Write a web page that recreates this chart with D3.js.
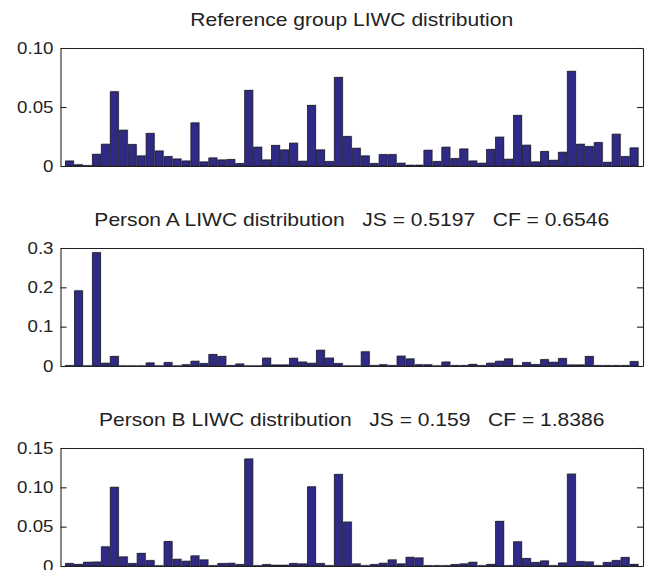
<!DOCTYPE html>
<html>
<head>
<meta charset="utf-8">
<script src="https://cdn.jsdelivr.net/npm/d3@7"></script>
<style>
  body { margin: 0; background: #fff; }
  text { font-family: "Liberation Sans", Arial, sans-serif; fill: #222; }
</style>
</head>
<body>
<script>
// LIWC category distributions (64 categories)
const referenceGroup = [
  0.0042, 0.001, 0.0003, 0.0099, 0.0184, 0.0629, 0.0303, 0.0181, 0.0085, 0.0275,
  0.0127, 0.0079, 0.0059, 0.0042, 0.0365, 0.0034, 0.0068, 0.0051, 0.0054, 0.002,
  0.064, 0.0159, 0.0051, 0.0173, 0.0136, 0.0193, 0.004, 0.0513, 0.0136, 0.0037,
  0.075, 0.0249, 0.015, 0.0085, 0.002, 0.0096, 0.0096, 0.0023, 0.0006, 0.0006,
  0.0133, 0.0037, 0.0159, 0.0062, 0.0144, 0.0042, 0.0023, 0.0139, 0.0244, 0.0057,
  0.0428, 0.0176, 0.0034, 0.0122, 0.0048, 0.0116, 0.0802, 0.0184, 0.0164, 0.0198,
  0.0031, 0.0269, 0.0079, 0.0153
];
const personA = [
  0.001, 0.191, 0.0005, 0.288, 0.007, 0.024, 0.0005, 0.0005, 0.0005, 0.0077,
  0.0005, 0.0085, 0.0005, 0.003, 0.012, 0.006, 0.029, 0.024, 0.001, 0.005,
  0.0005, 0.0005, 0.02, 0.0026, 0.0026, 0.0196, 0.01, 0.0068, 0.04, 0.02,
  0.006, 0.0005, 0.0005, 0.036, 0.001, 0.003, 0.001, 0.025, 0.018, 0.003,
  0.003, 0.0005, 0.01, 0.001, 0.001, 0.004, 0.001, 0.007, 0.012, 0.018,
  0.001, 0.0085, 0.0034, 0.016, 0.0094, 0.0188, 0.0026, 0.0026, 0.024, 0.001,
  0.001, 0.001, 0.001, 0.011
];
const personB = [
  0.003, 0.002, 0.0047, 0.005, 0.0243, 0.1, 0.0115, 0.003, 0.016, 0.0068,
  0.0003, 0.031, 0.0085, 0.006, 0.0128, 0.0077, 0.0004, 0.003, 0.0034, 0.0017,
  0.136, 0.0004, 0.0017, 0.0009, 0.0009, 0.003, 0.0026, 0.1006, 0.003, 0.0004,
  0.1163, 0.0558, 0.0026, 0.0004, 0.0017, 0.0034, 0.0077, 0.0026, 0.011, 0.0102,
  0.0004, 0.0004, 0.0004, 0.0017, 0.0026, 0.0047, 0.0004, 0.002, 0.0567, 0.0004,
  0.0307, 0.0094, 0.0043, 0.0064, 0.0004, 0.0038, 0.1168, 0.0055, 0.0051, 0.0004,
  0.0043, 0.0068, 0.0107, 0.002
];

const titles = [
  "Reference group LIWC distribution",
  "Person A LIWC distribution   JS = 0.5197   CF = 0.6546",
  "Person B LIWC distribution   JS = 0.159   CF = 1.8386"
];
const yMax = [0.1, 0.3, 0.15];
const yTicks = [[0, 0.05, 0.1], [0, 0.1, 0.2, 0.3], [0, 0.05, 0.1, 0.15]];
const yTickLabels = [["0", "0.05", "0.10"], ["0", "0.1", "0.2", "0.3"], ["0", "0.05", "0.10", "0.15"]];
const series = [referenceGroup, personA, personB];

const W = 647, H = 570;
const left = 60.5, right = 643;
const panelTops = [48, 248, 448];
const panelH = 118;
const sx = 1.17; // horizontal stretch of the text in the reference

const svg = d3.select("body").append("svg").attr("width", W).attr("height", H);

const x = d3.scaleLinear().domain([0, 65]).range([left, right]);
const barW = (x(1) - x(0)) * 0.9;

series.forEach((data, p) => {
  const top = panelTops[p];
  const y = d3.scaleLinear().domain([0, yMax[p]]).range([top + panelH, top]);
  const g = svg.append("g");

  // gray shadow behind bars
  g.selectAll(".shadow")
    .data(data)
    .enter()
    .append("rect")
    .attr("x", (d, i) => x(i + 1) - barW / 2 + 1)
    .attr("y", (d) => y(d) - 1)
    .attr("width", barW)
    .attr("height", (d) => y(0) - y(d))
    .attr("fill", "#c4c4c4");

  g.selectAll(".bar")
    .data(data)
    .enter()
    .append("rect")
    .attr("x", (d, i) => x(i + 1) - barW / 2)
    .attr("y", (d) => y(d))
    .attr("width", barW)
    .attr("height", (d) => y(0) - y(d))
    .attr("fill", "#2f2a86")
    .attr("stroke", "#1a1a2a")
    .attr("stroke-width", 0.8);

  const yAxis = d3.axisLeft(y)
    .tickValues(yTicks[p])
    .tickFormat((d, i) => yTickLabels[p][i])
    .tickSizeInner(-6)
    .tickSizeOuter(0)
    .tickPadding(7);

  const ya = g.append("g").attr("transform", `translate(${left},0)`).call(yAxis);
  ya.selectAll("text")
    .style("font-size", "16px")
    .style("font-family", "'Liberation Sans', Arial, sans-serif")
    .attr("fill", "#222")
    .attr("transform", `scale(${sx},1)`)
    .attr("x", -7 / sx);

  g.append("g")
    .attr("transform", `translate(${right},0)`)
    .call(d3.axisRight(y).tickValues(yTicks[p]).tickFormat("").tickSizeInner(-6).tickSizeOuter(0));

  g.append("g")
    .attr("transform", `translate(0,${top + panelH})`)
    .call(d3.axisBottom(x).tickValues([]).tickSizeOuter(0));
  g.append("g")
    .attr("transform", `translate(0,${top})`)
    .call(d3.axisTop(x).tickValues([]).tickSizeOuter(0));

  g.selectAll(".domain, .tick line").attr("stroke", "#222").attr("stroke-width", 1.1);

  svg.append("text")
    .attr("transform", `translate(${(left + right) / 2},${top - 22}) scale(${sx},1)`)
    .attr("text-anchor", "middle")
    .style("font-size", "18px")
    .style("white-space", "pre")
    .text(titles[p]);
});
</script>
</body>
</html>
